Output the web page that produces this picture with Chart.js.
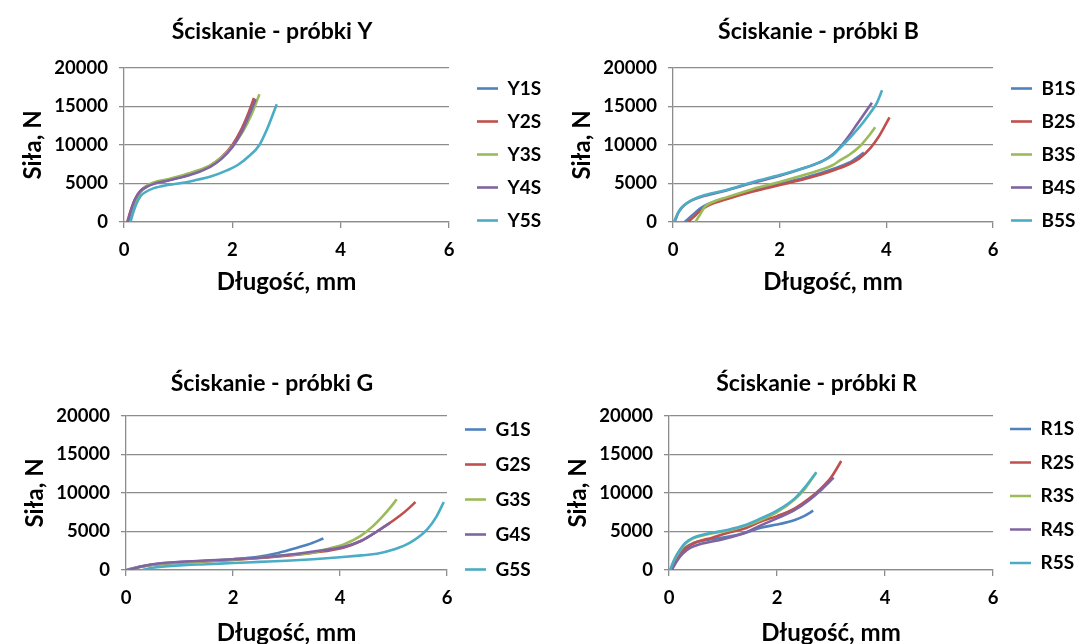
<!DOCTYPE html>
<html>
<head>
<meta charset="utf-8">
<script src="https://cdn.jsdelivr.net/npm/chart.js@4/dist/chart.umd.min.js"></script>
<style>
  html, body { margin: 0; background: #fff; overflow: hidden; }
  .panel { position: absolute; }
</style>
</head>
<body>
<div class="panel" style="left:0px;top:0px"><canvas id="chartY" width="544" height="305"></canvas></div>
<div class="panel" style="left:549px;top:0px"><canvas id="chartB" width="539" height="305"></canvas></div>
<div class="panel" style="left:2px;top:348px"><canvas id="chartG" width="540" height="305"></canvas></div>
<div class="panel" style="left:545px;top:348px"><canvas id="chartR" width="543" height="305"></canvas></div>
<script>
// x = length in mm, y = force in N
const xTicks = [0, 2, 4, 6];
const yTicks = [0, 5000, 10000, 15000, 20000];
const colors = ['#4F81BD', '#C0504D', '#9BBB59', '#8064A2', '#4BACC6'];

const namesY = ['Y1S', 'Y2S', 'Y3S', 'Y4S', 'Y5S'];
const Y1S = [[0.08,0],[0.13,1300],[0.2,2800],[0.3,3900],[0.4,4500],[0.55,5000],[0.8,5400],[1.0,5750],[1.3,6400],[1.6,7300],[1.8,8300],[2.0,9900],[2.15,11600],[2.3,13900],[2.42,16000]];
const Y2S = [[0.06,0],[0.12,1400],[0.2,2900],[0.3,4000],[0.4,4600],[0.55,5050],[0.8,5450],[1.0,5800],[1.3,6450],[1.6,7350],[1.8,8400],[2.0,10000],[2.15,11800],[2.3,14200],[2.4,16100]];
const Y3S = [[0.1,0],[0.15,1300],[0.22,2800],[0.3,3800],[0.4,4600],[0.55,5150],[0.8,5550],[1.0,5900],[1.3,6550],[1.6,7400],[1.8,8400],[2.0,9800],[2.2,11800],[2.35,13900],[2.5,16600]];
const Y4S = [[0.07,0],[0.12,1300],[0.2,2900],[0.3,4000],[0.4,4500],[0.55,4950],[0.8,5350],[1.0,5700],[1.3,6300],[1.6,7200],[1.8,8200],[2.0,9700],[2.15,11400],[2.3,13700],[2.43,15900]];
const Y5S = [[0.12,0],[0.16,1000],[0.22,2200],[0.3,3300],[0.4,3900],[0.55,4400],[0.8,4800],[1.0,5000],[1.3,5400],[1.6,5900],[1.9,6700],[2.1,7400],[2.3,8500],[2.5,10000],[2.65,12200],[2.82,15300]];

const namesB = ['B1S', 'B2S', 'B3S', 'B4S', 'B5S'];
const B1S = [[0.22,0],[0.35,800],[0.5,1700],[0.65,2300],[1.0,3100],[1.5,4100],[2.0,4950],[2.5,5800],[3.0,6900],[3.3,7700],[3.58,9000]];
const B2S = [[0.28,0],[0.38,600],[0.5,1400],[0.65,2100],[1.0,2950],[1.5,3950],[2.0,4800],[2.5,5650],[3.0,6700],[3.3,7500],[3.5,8300],[3.7,9600],[3.85,11000],[3.95,12200],[4.06,13600]];
const B3S = [[0.42,0],[0.5,900],[0.6,2000],[0.75,2600],[1.0,3200],[1.5,4300],[2.0,5200],[2.5,6200],[3.0,7400],[3.13,8000],[3.3,8700],[3.5,9800],[3.65,11000],[3.79,12300]];
const B4S = [[0.03,0],[0.1,1200],[0.2,2100],[0.35,2800],[0.6,3400],[1.0,4100],[1.5,5100],[2.0,6000],[2.5,7100],[2.8,7900],[3.0,8800],[3.13,9700],[3.3,11200],[3.45,12700],[3.6,14200],[3.73,15500]];
const B5S = [[0.02,0],[0.08,1000],[0.15,1800],[0.25,2400],[0.4,3000],[0.6,3500],[1.0,4150],[1.5,5200],[2.0,6100],[2.5,7100],[2.8,7900],[3.0,8700],[3.13,9600],[3.35,11200],[3.55,12800],[3.7,14200],[3.81,15300],[3.92,17100]];

const namesG = ['G1S', 'G2S', 'G3S', 'G4S', 'G5S'];
const G1S = [[0,0],[0.2,350],[0.5,700],[1.0,1000],[1.5,1200],[2.0,1400],[2.5,1750],[2.8,2150],[3.1,2700],[3.4,3300],[3.69,4080]];
const G2S = [[0.05,0],[0.3,450],[0.6,750],[1.0,950],[1.5,1100],[2.0,1300],[2.5,1550],[3.0,1850],[3.5,2250],[4.06,2900],[4.4,3800],[4.69,5000],[4.95,6200],[5.13,7100],[5.3,8100],[5.41,8830]];
const G3S = [[0.05,0],[0.3,450],[0.6,750],[1.0,950],[2.0,1350],[2.5,1600],[3.0,1950],[3.44,2200],[3.8,2800],[4.06,3300],[4.38,4400],[4.6,5600],[4.8,7000],[4.95,8200],[5.06,9180]];
const G4S = [[0.05,0],[0.3,500],[0.6,850],[1.0,1050],[2.0,1400],[2.5,1600],[3.0,1950],[3.5,2400],[4.06,3000],[4.4,3800],[4.69,5000],[4.94,6150]];
const G5S = [[0.3,0],[0.5,300],[1.0,600],[1.5,750],[2.0,900],[2.5,1050],[3.0,1200],[3.5,1400],[4.0,1650],[4.4,1900],[4.69,2100],[5.0,2650],[5.31,3550],[5.63,5280],[5.8,6900],[5.94,8830]];

const namesR = ['R1S', 'R2S', 'R3S', 'R4S', 'R5S'];
const R1S = [[0.03,0],[0.1,1000],[0.2,2000],[0.3,2900],[0.45,3500],[0.7,3900],[1.08,4300],[1.4,4800],[1.7,5500],[2.0,5900],[2.33,6500],[2.5,7000],[2.67,7700]];
const R2S = [[0.04,0],[0.12,1100],[0.22,2100],[0.35,3000],[0.5,3600],[0.8,4200],[1.08,4800],[1.4,5400],[1.7,6300],[2.0,7000],[2.33,8000],[2.6,9300],[2.8,10500],[3.0,12000],[3.19,14150]];
const R3S = [[0.03,0],[0.1,1300],[0.2,2500],[0.3,3400],[0.45,4100],[0.7,4600],[1.08,5100],[1.4,5700],[1.7,6500],[2.0,7500],[2.33,9200],[2.5,10400],[2.72,12600]];
const R4S = [[0.05,0],[0.15,1200],[0.25,2100],[0.4,2900],[0.6,3400],[1.0,4000],[1.4,4800],[1.7,5800],[2.0,6700],[2.33,7800],[2.6,9100],[2.8,10300],[3.05,12000]];
const R5S = [[0.02,0],[0.1,1400],[0.2,2600],[0.3,3500],[0.45,4200],[0.7,4700],[1.08,5200],[1.4,5800],[1.7,6700],[2.0,7700],[2.33,9300],[2.5,10600],[2.73,12700]];

Chart.defaults.font.family = 'Lato';
Chart.defaults.font.weight = 'bold';
Chart.defaults.color = '#000';

const gridColor = '#8c8c8c';

// puts the legend a fixed gap right of the plot, like in Excel
const legendPlace = {
    id: 'legendPlace',
    afterLayout(chart, args, opts) {
        const lg = chart.legend;
        const w = lg.width;
        lg.left = chart.chartArea.right + opts.gap - lg.options.labels.padding;
        lg.right = lg.left + w;
        lg.top += opts.dy;
        lg.bottom += opts.dy;
    }
};

function makeChart(id, title, names, series, o) {
    const ctx = document.getElementById(id).getContext('2d');
    const datasets = series.map((s, i) => ({
        label: names[i],
        data: s.map(p => ({x: p[0], y: p[1]})),
        borderColor: colors[i],
        backgroundColor: colors[i],
        borderWidth: 2.6,
        showLine: true,
        pointRadius: 0,
        pointStyle: 'line',
        cubicInterpolationMode: 'monotone',
        order: series.length - i
    }));

    return new Chart(ctx, {
        type: 'scatter',
        data: { datasets: datasets },
        plugins: [legendPlace],
        options: {
            responsive: false,
            animation: false,
            layout: { padding: { left: 10, right: 10, top: 0, bottom: 0 } },
            scales: {
                x: {
                    type: 'linear',
                    min: xTicks[0],
                    max: xTicks[xTicks.length - 1],
                    afterBuildTicks: s => { s.ticks = xTicks.map(v => ({value: v})); },
                    grid: { drawOnChartArea: false, drawTicks: true, tickLength: 6, color: gridColor, lineWidth: 1.3 },
                    border: { color: gridColor, width: 1.3 },
                    ticks: { font: { size: 18.5 }, padding: 11, maxRotation: 0 },
                    title: { display: true, text: 'Długość, mm', font: { size: 24 }, padding: { top: 0, bottom: o.xTitlePad } },
                    afterFit: s => { s.height = 83; }
                },
                y: {
                    min: yTicks[0],
                    max: yTicks[yTicks.length - 1],
                    afterBuildTicks: s => { s.ticks = yTicks.map(v => ({value: v})); },
                    grid: { drawTicks: true, tickLength: 5, color: gridColor, lineWidth: 1.3 },
                    border: { color: gridColor, width: 1.3 },
                    ticks: { font: { size: 18.5 }, padding: 11, callback: v => String(v) },
                    title: { display: true, text: 'Siła, N', font: { size: 24 }, padding: { top: 9, bottom: 0 } },
                    afterFit: s => { s.width = 114; }
                }
            },
            plugins: {
                title: {
                    display: true,
                    text: title,
                    font: { size: 23 },
                    color: '#000',
                    padding: { top: 18.2 + o.titleDy, bottom: 22.2 - o.titleDy }
                },
                legend: {
                    position: 'right',
                    reverse: true,
                    maxWidth: 85,
                    labels: {
                        usePointStyle: true,
                        pointStyle: 'line',
                        pointStyleWidth: 21,
                        font: { size: 19 },
                        padding: o.legendPad,
                        color: '#000'
                    }
                },
                legendPlace: { gap: o.legendGap, dy: o.legendDy },
                tooltip: { enabled: false }
            }
        }
    });
}

makeChart('chartY', 'Ściskanie - próbki Y', namesY, [Y1S, Y2S, Y3S, Y4S, Y5S], { titleDy: 0, xTitlePad: 8.6, legendPad: 14, legendDy: 2, legendGap: 28 });
makeChart('chartB', 'Ściskanie - próbki B', namesB, [B1S, B2S, B3S, B4S, B5S], { titleDy: 0, xTitlePad: 8.6, legendPad: 14, legendDy: 2, legendGap: 18 });
makeChart('chartG', 'Ściskanie - próbki G', namesG, [G1S, G2S, G3S, G4S, G5S], { titleDy: 4, xTitlePad: 5.6, legendPad: 16, legendDy: -1, legendGap: 18 });
makeChart('chartR', 'Ściskanie - próbki R', namesR, [R1S, R2S, R3S, R4S, R5S], { titleDy: 4, xTitlePad: 5.6, legendPad: 14.5, legendDy: -4.5, legendGap: 17 });
</script>
</body>
</html>
